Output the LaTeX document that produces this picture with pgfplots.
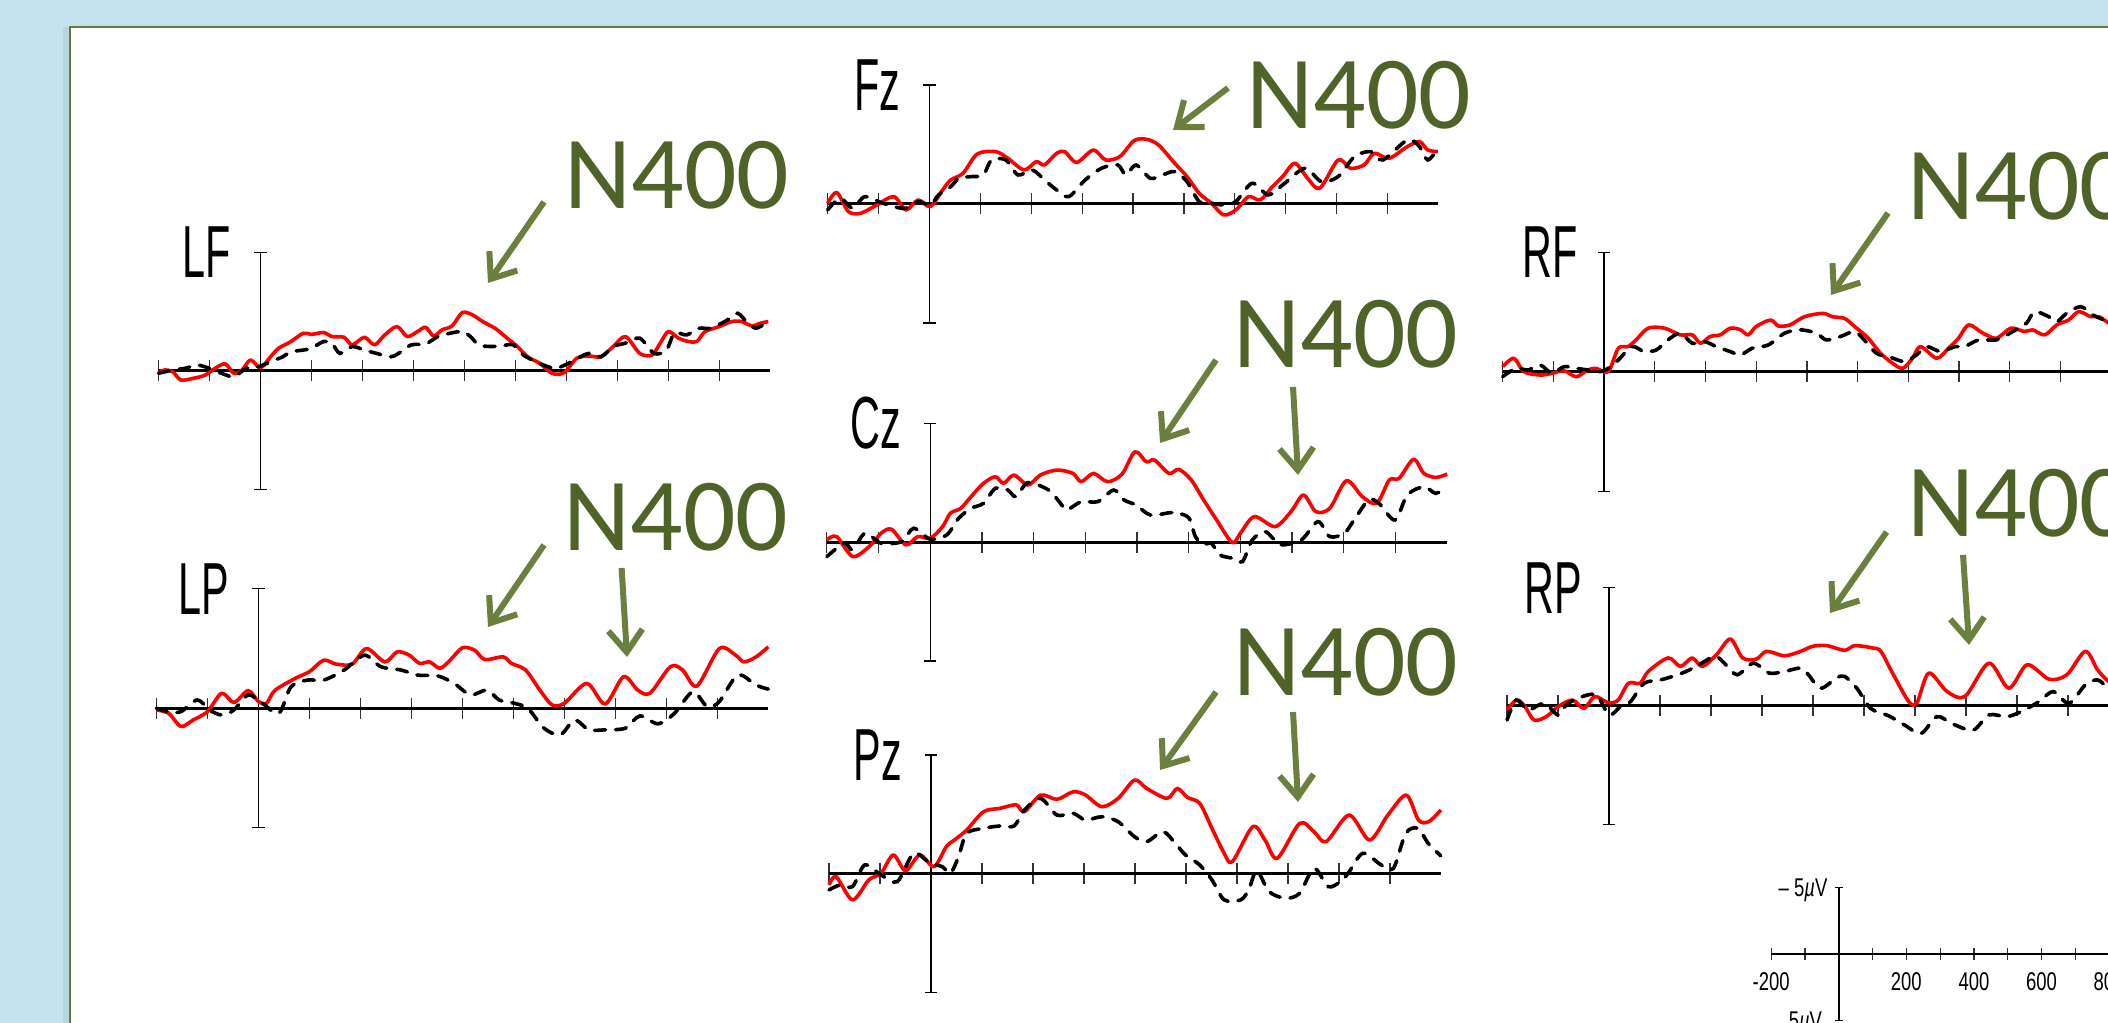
\documentclass[border=0pt]{standalone}
\usepackage{pgfplots}
\pgfplotsset{compat=1.18}
\usepackage{fontspec}
\setmainfont{Liberation Sans}
\newfontfamily\calib{Carlito}
\usetikzlibrary{arrows.meta}
\definecolor{bgblue}{HTML}{C4E3EC}
\definecolor{slideborder}{HTML}{657D3C}
\definecolor{ntext}{HTML}{4F6228}
\definecolor{narrow}{HTML}{6B803E}
\newcommand{\lab}[1]{\scalebox{0.56}[1]{\fontsize{21}{22}\selectfont #1}}
\newcommand{\smal}[1]{\scalebox{0.72}[1]{\fontsize{7.3}{8}\selectfont #1}}
\newcommand{\Nlab}{{\calib\fontsize{29.5}{30}\selectfont N400}}
\pgfplotsset{
 erp/.style={anchor=origin, axis lines=middle,
  axis line style={-}, every inner x axis line/.append style={-}, every inner y axis line/.append style={-},
  xmin=-200,xmax=1000,ymin=-5,ymax=5,y dir=reverse, clip=false,
  xtick={-200,-100,100,200,300,400,500,600,700,800,900}, xticklabels={}, ytick=\empty,
  tick align=center, major tick length=2.1mm,
  tick style={line width=0.12mm, black!80},
  x axis line style={line width=0.3mm}, y axis line style={line width=0.13mm}},
 redw/.style={color=red, line width=0.36mm, smooth, line join=round},
 blkw/.style={color=black, line width=0.36mm, smooth, line cap=round, dash pattern=on 1.1mm off 1.0mm}}
\newcommand{\caps}{%
 \draw[line width=0.13mm] (axis cs:-12,-5) -- (axis cs:12,-5);
 \draw[line width=0.13mm] (axis cs:-12,5) -- (axis cs:12,5);}
\begin{document}
\begin{tikzpicture}
\path[use as bounding box] (0mm,0mm) rectangle (210.8mm,102.3mm);
\clip (0mm,0mm) rectangle (210.8mm,102.3mm);
\begin{scope}[x=0.1mm,y=0.1mm]
\fill[bgblue] (0,0) rectangle (2108,1023);
\fill[black,opacity=0.06] (63,-20) rectangle (69,996);
\fill[white] (70,-20) rectangle (2130,996);
\draw[slideborder, line width=0.22mm] (70,-20) -- (70,996) -- (2130,996);
\end{scope}

% LF
\begin{axis}[erp, x=0.051mm, y=2.374mm, at={(26.04mm,65.2mm)}]
\addplot[redw] coordinates {(-200,0.07)(-188,-0.04)(-172,0.03)(-156,0.38)(-132,0.31)(-108,0.17)(-84,-0.18)(-68,-0.29)(-52,0.10)(-36,-0.04)(-20,-0.46)(-4,-0.18)(4,-0.18)(20,-0.60)(36,-0.96)(60,-1.24)(84,-1.59)(100,-1.54)(124,-1.62)(140,-1.45)(164,-1.42)(180,-1.10)(204,-1.42)(224,-1.10)(244,-1.52)(268,-1.87)(288,-1.45)(308,-1.66)(324,-1.84)(340,-1.47)(356,-1.73)(376,-1.90)(396,-2.46)(416,-2.36)(436,-2.08)(460,-1.80)(484,-1.38)(504,-1.03)(524,-0.60)(548,-0.32)(572,0.10)(596,0.07)(620,-0.53)(644,-0.63)(668,-0.60)(692,-1.03)(716,-1.45)(744,-0.74)(768,-0.67)(784,-1.17)(800,-1.66)(820,-1.38)(840,-1.24)(856,-1.24)(872,-1.66)(900,-1.87)(924,-2.08)(944,-2.08)(964,-1.90)(980,-2.01)(996,-2.08)};
\addplot[blkw] coordinates {(-200,0.10)(-172,-0.04)(-148,-0.11)(-124,-0.25)(-100,-0.11)(-76,0.10)(-52,0.24)(-28,-0.11)(-4,-0.18)(20,-0.39)(44,-0.60)(60,-0.81)(84,-0.88)(100,-0.96)(124,-1.24)(140,-1.17)(156,-0.74)(180,-1.03)(204,-0.88)(228,-0.74)(256,-0.60)(276,-0.81)(296,-1.10)(324,-1.14)(348,-1.45)(372,-1.59)(396,-1.66)(412,-1.45)(428,-1.10)(452,-1.03)(476,-1.07)(496,-1.10)(516,-0.67)(540,-0.39)(564,-0.18)(580,-0.11)(604,-0.32)(628,-0.60)(644,-0.74)(668,-0.60)(692,-1.03)(716,-1.17)(744,-1.38)(772,-0.74)(796,-0.88)(812,-1.59)(836,-1.52)(860,-1.80)(884,-1.80)(916,-2.15)(936,-2.43)(956,-2.01)(972,-1.80)(988,-1.98)};
\caps
\node[anchor=east,inner sep=0,xshift=-2.85mm] at (axis cs:0,-5) {\lab{LF}};
\end{axis}

% LP
\begin{axis}[erp, x=0.051mm, y=2.39mm, at={(25.84mm,31.47mm)}]
\addplot[redw] coordinates {(-200,0.07)(-176,0.21)(-152,0.76)(-128,0.49)(-100,0.14)(-72,-0.63)(-48,-0.24)(-20,-0.74)(0,-0.28)(16,-0.21)(32,-0.74)(72,-1.25)(100,-1.53)(128,-2.01)(152,-1.85)(184,-1.85)(212,-2.50)(248,-1.94)(272,-2.36)(296,-2.22)(316,-1.88)(336,-1.94)(356,-1.67)(376,-2.01)(400,-2.53)(424,-2.43)(444,-2.04)(480,-2.15)(496,-1.88)(524,-1.60)(552,-0.76)(576,-0.14)(600,-0.21)(644,-1.04)(680,-0.18)(716,-1.32)(744,-0.76)(768,-0.63)(808,-1.74)(832,-1.60)(860,-0.93)(904,-2.50)(936,-2.22)(952,-1.94)(976,-2.15)(1000,-2.57)};
\addplot[blkw] coordinates {(-200,0)(-176,0.14)(-152,0.14)(-120,-0.35)(-96,0.07)(-72,0.28)(-48,0.07)(-20,-0.56)(8,-0.21)(40,0.21)(64,-0.90)(96,-1.18)(128,-1.18)(168,-1.60)(208,-2.22)(240,-1.74)(280,-1.60)(312,-1.39)(352,-1.35)(384,-1.04)(416,-0.56)(448,-0.76)(472,-0.35)(496,-0.24)(528,0)(560,0.83)(592,1.11)(620,0.49)(648,0.90)(680,0.90)(720,0.83)(748,0.32)(784,0.65)(816,0.21)(852,-0.69)(880,-0.07)(904,-0.28)(940,-1.39)(976,-0.97)(1000,-0.80)};
\caps
\node[anchor=east,inner sep=0,xshift=-2.85mm] at (axis cs:0,-5) {\lab{LP}};
\end{axis}

% Fz
\begin{axis}[erp, x=0.0509mm, y=2.38mm, at={(92.94mm,81.9mm)}]
\addplot[redw] coordinates {(-200,-0.03)(-182,-0.48)(-159,0.32)(-135,0.39)(-103,0.04)(-70,-0.31)(-46,0.25)(-22,-0.17)(2,0.11)(26,-0.59)(42,-1.01)(66,-1.29)(94,-2.10)(130,-2.20)(154,-1.92)(186,-1.43)(210,-1.78)(226,-1.64)(250,-2.13)(266,-2.20)(289,-1.74)(322,-2.27)(346,-1.85)(374,-1.99)(402,-2.66)(426,-2.72)(450,-2.48)(482,-1.71)(506,-1.15)(530,-0.45)(554,-0.03)(578,0.46)(602,0.25)(627,-0.31)(650,-0.17)(674,-0.73)(694,-1.15)(718,-1.71)(743,-1.08)(767,-0.66)(803,-1.85)(827,-1.50)(854,-1.64)(874,-2.13)(903,-1.92)(939,-2.41)(963,-2.62)(979,-2.27)(999,-2.20)};
\addplot[blkw] coordinates {(-200,0.25)(-175,-0.24)(-151,0.18)(-127,-0.31)(-95,-0.06)(-70,0.11)(-46,0.18)(-22,-0.10)(2,0.04)(18,-0.38)(42,-0.73)(58,-1.08)(82,-1.15)(106,-1.22)(122,-1.85)(150,-1.85)(174,-1.22)(202,-1.43)(226,-1.01)(250,-0.59)(274,-0.31)(306,-1.01)(338,-1.50)(370,-1.64)(386,-1.22)(406,-1.64)(434,-1.08)(458,-1.22)(482,-1.36)(506,-0.94)(530,-0.10)(554,-0.03)(578,0.04)(602,-0.10)(634,-0.87)(666,-0.38)(698,-0.87)(738,-1.50)(770,-0.94)(803,-1.15)(835,-1.99)(867,-2.20)(891,-1.85)(939,-2.69)(963,-2.41)(979,-1.85)(1000,-2.34)};
\caps
\node[anchor=east,inner sep=0,xshift=-2.85mm] at (axis cs:0,-5) {\lab{Fz}};
\end{axis}

% Cz
\begin{axis}[erp, x=0.0517mm, y=2.375mm, at={(93.02mm,48.07mm)}]
\addplot[redw] coordinates {(-200,-0.10)(-181,-0.24)(-150,0.60)(-118,0.18)(-95,-0.38)(-75,-0.55)(-47,0.11)(-24,-0.24)(0,-0.17)(24,-0.66)(39,-1.22)(59,-1.43)(79,-1.92)(103,-2.48)(126,-2.76)(142,-2.48)(162,-2.83)(189,-2.41)(213,-2.83)(245,-3.04)(276,-2.90)(292,-2.55)(316,-2.90)(343,-2.55)(371,-2.87)(396,-3.81)(418,-3.39)(434,-3.46)(462,-2.90)(481,-3.07)(505,-2.62)(529,-1.78)(552,-1.01)(584,0.01)(600,-0.38)(627,-1.08)(667,-0.66)(698,-1.29)(722,-1.99)(746,-1.29)(773,-1.43)(805,-2.59)(836,-1.92)(864,-1.64)(888,-2.62)(907,-2.69)(935,-3.49)(955,-2.90)(978,-2.73)(1000,-2.87)};
\addplot[blkw] coordinates {(-200,0.60)(-166,0.04)(-150,0.32)(-126,-0.38)(-95,0.04)(-55,-0.03)(-32,-0.59)(0,-0.13)(32,-0.31)(55,-1.01)(79,-1.43)(103,-1.64)(126,-2.27)(150,-2.20)(166,-1.92)(189,-2.51)(229,-2.20)(252,-1.64)(264,-1.36)(292,-1.71)(324,-1.71)(355,-2.20)(375,-1.78)(398,-1.57)(426,-1.15)(465,-1.25)(481,-1.22)(501,-1.01)(513,-0.24)(529,0.08)(544,0.04)(560,0.53)(584,0.67)(604,0.81)(623,-0.10)(647,-0.45)(663,-0.17)(679,0.11)(718,-0.10)(750,-0.87)(773,-0.24)(801,-0.38)(820,-0.94)(848,-1.78)(868,-1.64)(899,-0.94)(923,-1.99)(955,-2.34)(978,-2.06)(998,-2.34)};
\caps
\node[anchor=east,inner sep=0,xshift=-2.85mm] at (axis cs:0,-5) {\lab{Cz}};
\end{axis}

% Pz
\begin{axis}[erp, x=0.051mm, y=2.377mm, at={(93.1mm,14.9mm)}]
\addplot[redw] coordinates {(-200,0.46)(-186,0.11)(-154,1.09)(-122,0.25)(-98,-0.03)(-74,-0.80)(-50,-0.14)(-22,-0.80)(6,-0.31)(30,-1.15)(46,-1.43)(70,-1.85)(103,-2.62)(135,-2.76)(167,-2.91)(183,-2.62)(215,-3.32)(247,-3.14)(279,-3.46)(303,-3.32)(335,-2.83)(367,-3.18)(399,-3.95)(423,-3.60)(463,-3.18)(483,-3.60)(503,-3.22)(527,-2.97)(551,-1.92)(575,-0.87)(591,-0.52)(631,-1.99)(655,-1.43)(679,-0.66)(723,-2.13)(751,-1.78)(775,-1.36)(820,-2.48)(860,-1.43)(896,-2.48)(932,-3.32)(956,-2.27)(976,-2.20)(1000,-2.69)};
\addplot[blkw] coordinates {(-200,0.67)(-178,0.46)(-154,0.53)(-130,-0.38)(-98,0.04)(-66,0.32)(-34,-0.87)(-2,-0.45)(22,-0.31)(38,-0.03)(54,-0.73)(70,-1.71)(103,-1.92)(135,-2.02)(163,-2.02)(183,-2.69)(215,-3.18)(247,-2.48)(279,-2.55)(303,-2.27)(335,-2.41)(367,-2.20)(399,-1.57)(423,-1.36)(455,-1.78)(479,-1.29)(499,-0.80)(527,-0.38)(551,0.25)(575,1.09)(607,1.09)(623,0.67)(639,-0.14)(663,0.74)(695,1.02)(723,0.81)(751,-0.24)(779,0.53)(803,0.32)(819,-0.06)(847,-0.87)(883,-0.38)(907,-0.24)(931,-1.71)(955,-1.92)(975,-1.29)(1000,-0.76)};
\caps
\node[anchor=east,inner sep=0,xshift=-2.85mm] at (axis cs:0,-5) {\lab{Pz}};
\end{axis}

% RF
\begin{axis}[erp, x=0.0507mm, y=2.39mm, at={(160.41mm,65.13mm)}]
\addplot[redw] coordinates {(-200,-0.21)(-178,-0.56)(-158,0)(-126,0.14)(-103,0.07)(-79,-0.04)(-55,0.21)(-32,-0.07)(-16,-0.14)(8,0)(28,-0.98)(47,-1.05)(63,-1.33)(87,-1.82)(119,-1.82)(150,-1.54)(174,-1.54)(190,-1.19)(209,-1.47)(229,-1.54)(249,-1.82)(269,-1.75)(284,-1.54)(300,-1.89)(328,-2.16)(344,-1.91)(367,-1.96)(395,-2.30)(431,-2.44)(450,-2.30)(474,-2.23)(494,-1.89)(521,-1.40)(545,-0.77)(569,-0.35)(589,-0.14)(608,-0.56)(624,-1.05)(656,-0.56)(679,-0.98)(699,-1.40)(719,-1.96)(747,-1.61)(774,-1.40)(802,-1.82)(829,-1.68)(845,-1.75)(869,-1.54)(893,-1.96)(916,-2.16)(936,-2.51)(960,-2.30)(976,-2.30)(994,-2.05)(1000,-2.0)};
\addplot[blkw] coordinates {(-200,0.21)(-174,-0.14)(-150,-0.07)(-126,-0.28)(-103,0.07)(-79,-0.21)(-55,-0.14)(-32,-0.07)(-8,0)(8,-0.14)(28,-0.49)(55,-1.05)(79,-0.84)(103,-0.91)(126,-1.33)(150,-1.61)(174,-1.19)(198,-1.26)(221,-1.05)(249,-0.84)(269,-0.70)(292,-0.98)(324,-1.12)(356,-1.61)(387,-1.75)(419,-1.61)(438,-1.33)(466,-1.47)(494,-1.68)(513,-1.33)(537,-0.77)(561,-0.63)(593,-0.42)(616,-0.70)(636,-1.05)(664,-0.84)(692,-1.05)(711,-1.05)(739,-1.33)(774,-1.33)(806,-1.68)(833,-2.03)(849,-2.51)(877,-2.30)(893,-2.09)(912,-2.44)(940,-2.72)(964,-2.37)(988,-2.16)(1000,-2.2)};
\caps
\node[anchor=east,inner sep=0,xshift=-2.6mm] at (axis cs:0,-5) {\lab{RF}};
\end{axis}

% RP
\begin{axis}[erp, x=0.051mm, y=2.367mm, at={(160.9mm,31.7mm)}]
\addplot[redw] coordinates {(-200,0.17)(-182,-0.25)(-167,-0.04)(-147,0.59)(-123,0.45)(-100,0.03)(-72,-0.25)(-49,0.10)(-28,-0.40)(-2,-0.14)(18,-0.25)(38,-0.96)(61,-0.96)(77,-1.46)(116,-2.03)(140,-1.67)(163,-2.03)(183,-1.67)(211,-2.17)(238,-2.83)(262,-2.03)(289,-1.98)(309,-2.31)(344,-2.12)(376,-2.31)(399,-2.52)(427,-2.55)(462,-2.35)(482,-2.55)(517,-2.45)(533,-2.31)(556,-1.39)(588,-0.18)(604,-0.14)(627,-1.39)(663,-0.61)(698,-0.40)(745,-1.81)(784,-0.75)(820,-1.74)(863,-1.13)(898,-1.32)(934,-2.31)(958,-1.53)(980,-1.03)(1000,-0.9)};
\addplot[blkw] coordinates {(-200,0.59)(-182,-0.25)(-159,0.17)(-127,-0.11)(-100,0.38)(-84,-0.04)(-61,-0.33)(-25,-0.47)(0,0.38)(22,0.03)(42,-0.18)(69,-0.96)(101,-1.10)(140,-1.36)(171,-1.67)(207,-2.10)(226,-1.81)(251,-1.32)(283,-1.81)(314,-1.39)(344,-1.46)(376,-1.60)(391,-1.32)(415,-0.75)(446,-1.18)(462,-1.25)(486,-0.75)(513,0.10)(549,0.42)(580,0.81)(612,1.16)(643,0.45)(674,0.76)(714,1.02)(745,0.38)(780,0.45)(808,0.24)(843,-0.18)(871,-0.61)(902,-0.11)(934,-0.89)(958,-1.10)(980,-0.75)(1000,-0.6)};
\caps
\node[anchor=east,inner sep=0,xshift=-2.6mm] at (axis cs:0,-5) {\lab{RP}};
\end{axis}

% calibration
\begin{axis}[anchor=origin, at={(183.87mm,6.9mm)}, x=0.0338mm, y=1.326mm,
  axis lines=middle, axis line style={-}, every inner x axis line/.append style={-}, every inner y axis line/.append style={-},
  xmin=-200,xmax=1000,ymin=-5,ymax=5,y dir=reverse, clip=false,
  xtick={-200,-100,100,200,300,400,500,600,700,800,900,1000}, xticklabels={}, ytick=\empty,
  tick align=center, major tick length=1.2mm, tick style={line width=0.12mm, black!80},
  x axis line style={line width=0.2mm}, y axis line style={line width=0.18mm}]
\addplot[draw=none] coordinates {(-200,0)(1000,0)};
\draw[line width=0.15mm] (axis cs:-12,-5) -- (axis cs:12,-5);
\draw[line width=0.15mm] (axis cs:-12,5) -- (axis cs:12,5);
\node[anchor=base,inner sep=0,yshift=-3.67mm] at (axis cs:-200,0) {\smal{-200}};
\node[anchor=base,inner sep=0,yshift=-3.67mm] at (axis cs:200,0) {\smal{200}};
\node[anchor=base,inner sep=0,yshift=-3.67mm] at (axis cs:400,0) {\smal{400}};
\node[anchor=base,inner sep=0,yshift=-3.67mm] at (axis cs:600,0) {\smal{600}};
\node[anchor=base,inner sep=0,yshift=-3.67mm] at (axis cs:800,0) {\smal{800}};
\node[anchor=base east,inner sep=0,xshift=-1.07mm,yshift=-0.9mm] at (axis cs:0,-5) {\smal{– 5\textit{µ}V}};
\node[anchor=base east,inner sep=0,xshift=-1.6mm,yshift=-0.9mm] at (axis cs:0,5) {\smal{5\textit{µ}V}};
\end{axis}

% N400 labels and arrows
\begin{scope}[x=0.1mm,y=0.1mm]
\begin{scope}[narrow, line width=0.6mm, -{Straight Barb[length=2.2mm,width=3.4mm]}]
\draw (544,821) -- (488,740);
\draw (544,478) -- (488,396);
\draw (621.6,455) -- (627,366);
\draw (1228,935) -- (1173,893);
\draw (1216,663) -- (1160,580);
\draw (1293,636) -- (1298,548);
\draw (1216,331) -- (1160,253);
\draw (1293,311) -- (1298,221);
\draw (1888,810) -- (1831,728);
\draw (1886.5,491) -- (1830,410);
\draw (1963,468) -- (1969,378);
\end{scope}
\begin{scope}[every node/.style={anchor=base west, inner sep=0, text=ntext}]
\node at (564,814.7) {\Nlab};
\node at (1246,894) {\Nlab};
\node at (1233,655) {\Nlab};
\node at (1233,327) {\Nlab};
\node at (563,472) {\Nlab};
\node at (1907,803) {\Nlab};
\node at (1907,486) {\Nlab};
\end{scope}
\end{scope}
\end{tikzpicture}
\end{document}
